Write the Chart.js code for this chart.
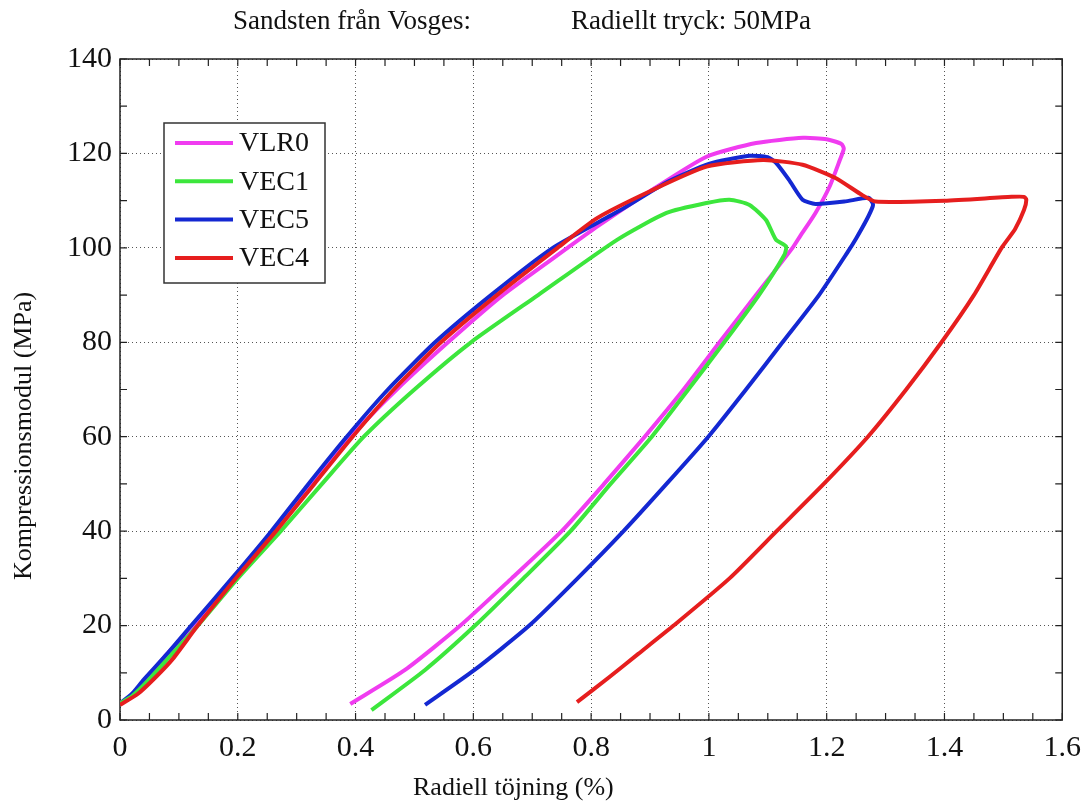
<!DOCTYPE html>
<html>
<head>
<meta charset="utf-8">
<script src="https://cdn.jsdelivr.net/npm/chart.js@4"></script>
<style>
  html, body { margin: 0; padding: 0; background: #fff; }
  #wrap { width: 1091px; height: 802px; }
</style>
</head>
<body>
<div id="wrap"><canvas id="chart" width="1091" height="802"></canvas></div>
<script>
// tick labels
const xTickLabels = ['0', '0.2', '0.4', '0.6', '0.8', '1', '1.2', '1.4', '1.6'];
const yTickLabels = ['0', '20', '40', '60', '80', '100', '120', '140'];

const seriesNames = ['VLR0', 'VEC1', 'VEC5', 'VEC4'];
const seriesColors = ['#f03cf0', '#3ce63c', '#1428d2', '#e61e1e'];

// VLR0 (magenta)
const vlr0X = [0, 0.02, 0.045, 0.08, 0.125, 0.195, 0.262, 0.328, 0.392, 0.47, 0.557, 0.65, 0.76, 0.81, 0.9, 0.996, 1.08, 1.16, 1.2, 1.225, 1.229, 1.222, 1.205, 1.181, 1.155, 1.142, 1.08, 1.018, 0.957, 0.891, 0.822, 0.75, 0.665, 0.578, 0.484, 0.391];
const vlr0Y = [3.5, 5, 8.5, 14, 20, 30, 40, 50, 60, 70, 80, 90, 100, 104.5, 112, 119.3, 122.2, 123.3, 123, 122, 121, 118.5, 113, 107.4, 102.5, 100, 90, 80, 70, 60, 50, 40, 30, 20, 10.6, 3.4];

// VEC1 (green)
const vec1X = [0, 0.02, 0.045, 0.085, 0.132, 0.2, 0.273, 0.343, 0.414, 0.5, 0.596, 0.71, 0.844, 0.928, 0.996, 1.035, 1.069, 1.097, 1.114, 1.131, 1.128, 1.085, 1.026, 0.965, 0.903, 0.833, 0.765, 0.685, 0.603, 0.518, 0.427];
const vec1Y = [3.5, 5, 8, 13.5, 20, 30, 40, 50, 60, 70, 80, 90, 101.7, 107.4, 109.5, 110.2, 109.1, 105.9, 101.7, 100.3, 98.5, 90, 80, 70, 60, 50, 40, 30, 20, 10.6, 2.1];

// VEC5 (blue)
const vec5X = [0, 0.02, 0.04, 0.08, 0.121, 0.19, 0.257, 0.32, 0.385, 0.455, 0.535, 0.63, 0.735, 0.85, 0.93, 1.0, 1.069, 1.1, 1.114, 1.136, 1.159, 1.181, 1.23, 1.271, 1.278, 1.278, 1.268, 1.25, 1.235, 1.187, 1.125, 1.063, 0.999, 0.928, 0.855, 0.777, 0.695, 0.602, 0.518];
const vec5Y = [3.5, 5.5, 8.5, 14, 20, 30, 40, 50, 60, 70, 80, 90, 100, 108, 114, 117.8, 119.5, 119.2, 118, 114.4, 110.2, 109.3, 109.8, 110.6, 109.5, 108.7, 106, 102, 99, 90, 80, 70, 60, 50, 40, 30, 20, 10.6, 3.2];

// VEC4 (red)
const vec4X = [0, 0.03, 0.06, 0.09, 0.132, 0.2, 0.265, 0.33, 0.395, 0.465, 0.545, 0.64, 0.743, 0.81, 0.9, 0.996, 1.092, 1.159, 1.215, 1.26, 1.283, 1.4, 1.514, 1.535, 1.539, 1.535, 1.52, 1.497, 1.45, 1.395, 1.335, 1.27, 1.195, 1.115, 1.035, 0.94, 0.88, 0.83, 0.776];
const vec4Y = [3.2, 5.5, 9, 13, 20, 30.5, 40, 50, 60, 70, 80, 90, 100, 106.3, 112, 117.2, 118.6, 117.6, 114.8, 111.2, 109.8, 110, 110.8, 110.8, 110.2, 108, 104, 100, 90, 80, 70, 60, 50, 40, 30, 20, 14, 9, 3.8];

const allX = [vlr0X, vec1X, vec5X, vec4X];
const allY = [vlr0Y, vec1Y, vec5Y, vec4Y];
const drawOrder = [4, 2, 3, 1];

const serif = "'Liberation Serif', 'DejaVu Serif', serif";

function toPoints(xs, ys) {
    return xs.map((x, i) => ({ x: x, y: ys[i] }));
}

const datasets = seriesNames.map((name, i) => ({
    label: name,
    data: toPoints(allX[i], allY[i]),
    borderColor: seriesColors[i],
    backgroundColor: seriesColors[i],
    borderWidth: 4,
    pointRadius: 0,
    showLine: true,
    tension: 0.2,
    order: drawOrder[i]
}));

// frame, inward ticks, titles and legend box
const decorations = {
    id: 'decorations',
    beforeDatasetsDraw(chart) {
        const { ctx, chartArea: a, scales } = chart;
        ctx.save();
        ctx.strokeStyle = '#222';
        ctx.lineWidth = 1.5;
        ctx.strokeRect(a.left, a.top, a.right - a.left, a.bottom - a.top);
        ctx.lineWidth = 1.2;
        ctx.beginPath();
        for (let v = 0; v <= 160; v += 5) {
            const px = scales.x.getPixelForValue(v / 100);
            ctx.moveTo(px, a.bottom); ctx.lineTo(px, a.bottom - 7);
            ctx.moveTo(px, a.top); ctx.lineTo(px, a.top + 7);
        }
        for (let v = 0; v <= 140; v += 10) {
            const py = scales.y.getPixelForValue(v);
            ctx.moveTo(a.left, py); ctx.lineTo(a.left + 7, py);
            ctx.moveTo(a.right, py); ctx.lineTo(a.right - 7, py);
        }
        ctx.stroke();
        ctx.restore();
    },
    afterDraw(chart) {
        const { ctx } = chart;
        ctx.save();
        ctx.fillStyle = '#111';
        ctx.font = '27px ' + serif;
        ctx.textBaseline = 'alphabetic';
        ctx.textAlign = 'left';
        ctx.fillText('Sandsten från Vosges:', 233, 29);
        ctx.fillText('Radiellt tryck: 50MPa', 571, 29);
        ctx.font = '26px ' + serif;
        ctx.fillText('Radiell töjning (%)', 413, 795);
        ctx.save();
        ctx.translate(24, 436);
        ctx.rotate(-Math.PI / 2);
        ctx.textAlign = 'center';
        ctx.textBaseline = 'middle';
        ctx.fillText('Kompressionsmodul (MPa)', 0, 0);
        ctx.restore();

        // legend
        ctx.fillStyle = '#fff';
        ctx.fillRect(164, 123, 161, 160);
        ctx.strokeStyle = '#333';
        ctx.lineWidth = 1.5;
        ctx.strokeRect(164, 123, 161, 160);
        ctx.font = '28px ' + serif;
        ctx.textBaseline = 'middle';
        ctx.textAlign = 'left';
        seriesNames.forEach((name, i) => {
            const y = 143 + i * 38.3;
            ctx.strokeStyle = seriesColors[i];
            ctx.lineWidth = 4;
            ctx.beginPath();
            ctx.moveTo(175, y);
            ctx.lineTo(233, y);
            ctx.stroke();
            ctx.fillStyle = '#111';
            ctx.fillText(name, 239, y + 1);
        });
        ctx.restore();
    }
};

new Chart(document.getElementById('chart'), {
    type: 'scatter',
    data: { datasets: datasets },
    options: {
        responsive: false,
        animation: false,
        layout: { padding: { left: 0, right: 23, top: 59, bottom: 0 } },
        plugins: { legend: { display: false }, tooltip: { enabled: false } },
        scales: {
            x: {
                type: 'linear',
                min: 0,
                max: 1.6,
                afterFit: s => { s.height = 82; },
                grid: { color: '#555', lineWidth: 1, drawTicks: false },
                border: { display: false, dash: [1, 3] },
                ticks: {
                    stepSize: 0.2,
                    padding: 10,
                    color: '#111',
                    font: { family: serif, size: 30 },
                    maxRotation: 0,
                    callback: (v, i) => xTickLabels[i]
                }
            },
            y: {
                type: 'linear',
                min: 0,
                max: 140,
                afterFit: s => { s.width = 120; },
                grid: { color: '#555', lineWidth: 1, drawTicks: false },
                border: { display: false, dash: [1, 3] },
                ticks: {
                    stepSize: 20,
                    padding: 8,
                    color: '#111',
                    font: { family: serif, size: 30 },
                    callback: (v, i) => yTickLabels[i]
                }
            }
        }
    },
    plugins: [decorations]
});
</script>
</body>
</html>
